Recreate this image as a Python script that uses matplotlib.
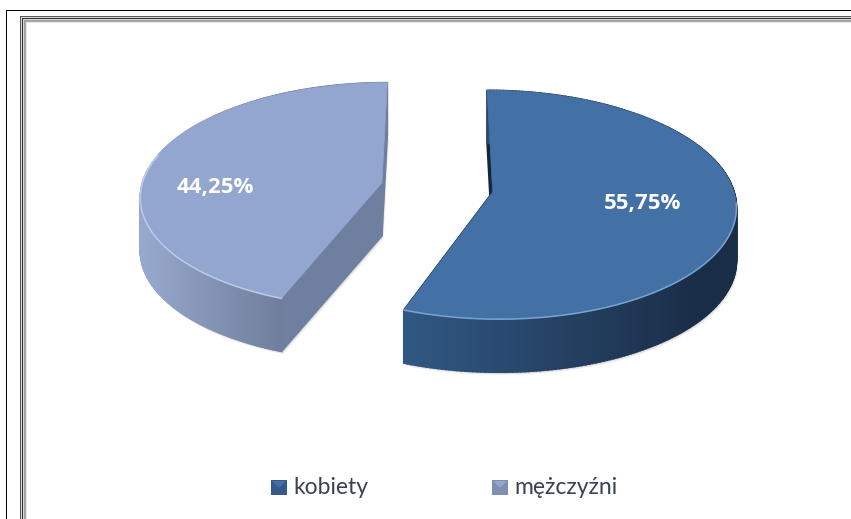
import numpy as np
import matplotlib.pyplot as plt
from matplotlib.patches import Polygon, Rectangle

plt.rcParams["font.family"] = ["Lato", "DejaVu Sans"]

labels = ["kobiety", "mężczyźni"]
shares = [55.75, 44.25]
value_labels = ["55,75%", "44,25%"]

top_colors = ["#4371a6", "#92a6cf"]
rim_colors = ["#7ba3d0", "#bccbe8"]
cut_colors = ["#14263c", "#6f7f9f"]
legend_colors = ["#34598a", "#7f8fb0"]
side_left = [np.array([0x30, 0x57, 0x82]) / 255, np.array([0x96, 0xa8, 0xcc]) / 255]
side_right = [np.array([0x1a, 0x2d, 0x47]) / 255, np.array([0x6f, 0x7e, 0x9c]) / 255]
side_span = [(410, 700), (145, 280)]
rim_range = [(95, 200.7), (200.7, 285)]

# projection of the tilted pie onto the picture, in pixels
CX, CY = 437, 187.5
FX, FY = 240.5, 112
PERSP = 0.109
EXPLODE = 0.234
DEPTH = 53


def project(u, v):
    w = 1 + PERSP * v
    return CX + FX * u / w, CY - FY * v / w


def wedge_xy(start, end, explode_dir):
    # angles clockwise from 12 o'clock, in degrees
    t = np.radians(np.linspace(start, end, 240))
    du, dv = EXPLODE * np.sin(explode_dir), EXPLODE * np.cos(explode_dir)
    x, y = project(np.sin(t) + du, np.cos(t) + dv)
    ax0, ay0 = project(du, dv)
    return x, y, ax0, ay0


def quad(ax, x0, y0, x1, y1, color, zorder):
    pts = [(x0, y0), (x1, y1), (x1, y1 + DEPTH), (x0, y0 + DEPTH)]
    ax.add_patch(Polygon(pts, closed=True, fc=color, ec=color, lw=1.2, zorder=zorder))


def draw_slice(ax, i, start, end):
    mid = np.radians((start + end) / 2)
    x, y, ax0, ay0 = wedge_xy(start, end, mid)

    # soft shadow around the lower edge
    for grow, alpha in [(3, 0.05), (2, 0.07), (1, 0.10)]:
        sx = np.r_[ax0, x]
        sy = np.r_[ay0, y] + DEPTH + grow
        ax.add_patch(Polygon(np.c_[sx + grow * 0.6, sy], closed=True, fc="black", ec="none",
                             alpha=alpha, zorder=2))

    # cut faces first, the outer wall and the top go over them
    quad(ax, ax0, ay0, x[0], y[0], cut_colors[i], 3)
    quad(ax, ax0, ay0, x[-1], y[-1], cut_colors[i], 3)

    lo, hi = side_span[i]
    for k in range(len(x) - 1):
        f = np.clip(((x[k] + x[k + 1]) / 2 - lo) / (hi - lo), 0, 1)
        color = side_left[i] * (1 - f) + side_right[i] * f
        quad(ax, x[k], y[k], x[k + 1], y[k + 1], color, 4)

    ax.add_patch(Polygon(np.c_[np.r_[ax0, x], np.r_[ay0, y]], closed=True,
                         fc=top_colors[i], ec=top_colors[i], lw=0.5, zorder=5))

    # light rim only on the front part of the edge
    t = np.linspace(start, end, len(x))
    front = (t >= rim_range[i][0]) & (t <= rim_range[i][1])
    ax.plot(x[front], y[front], color=rim_colors[i], lw=1.1, zorder=6)


def draw_frame(ax):
    # black outer line, then the grey double border inside it
    ax.add_patch(Rectangle((6, 10), 851, 1, fc="black", ec="none"))
    ax.add_patch(Rectangle((6, 10), 1, 519, fc="black", ec="none"))
    bands = [(0, "#5a5a5a"), (1, "#d8d8d8"), (2, "#333333"), (3, "#d8d8d8"),
             (4, "#a0a0a0"), (5, "#a8a8a8"), (6, "#e6e6e6")]
    for off, color in bands:
        ax.add_patch(Rectangle((20 + off, 16 + off), 851, 1, fc=color, ec="none", zorder=1))
        ax.add_patch(Rectangle((20 + off, 16 + off), 1, 519, fc=color, ec="none", zorder=1))


def draw_legend(ax):
    for x0, name, i in [(271, labels[0], 0), (492, labels[1], 1)]:
        y0 = 480
        ax.add_patch(Rectangle((x0, y0), 16, 15, fc=legend_colors[i], ec="none"))
        ax.add_patch(Polygon([(x0 + 1, y0 + 1), (x0 + 15, y0 + 1), (x0 + 8, y0 + 8)],
                             closed=True, fc=top_colors[i], ec="none"))
        ax.text(x0 + 22, y0 + 7, name, fontsize=16.5, color="#3a4058",
                ha="left", va="center")


fig = plt.figure(figsize=(8.51, 5.19), dpi=100)
ax = fig.add_axes([0, 0, 1, 1])
ax.set_xlim(0, 851)
ax.set_ylim(519, 0)
ax.axis("off")

draw_frame(ax)

angle = 0
for i, share in enumerate(shares):
    end = angle + share / 100 * 360
    draw_slice(ax, i, angle, end)
    angle = end

ax.text(643, 204, value_labels[0], color="white", fontsize=16, fontweight="bold",
        family=["Open Sans", "DejaVu Sans"], ha="center", va="center", zorder=7)
ax.text(215, 187, value_labels[1], color="white", fontsize=16, fontweight="bold",
        family=["Open Sans", "DejaVu Sans"], ha="center", va="center", zorder=7)

draw_legend(ax)

fig.savefig("out.png", dpi=100)
